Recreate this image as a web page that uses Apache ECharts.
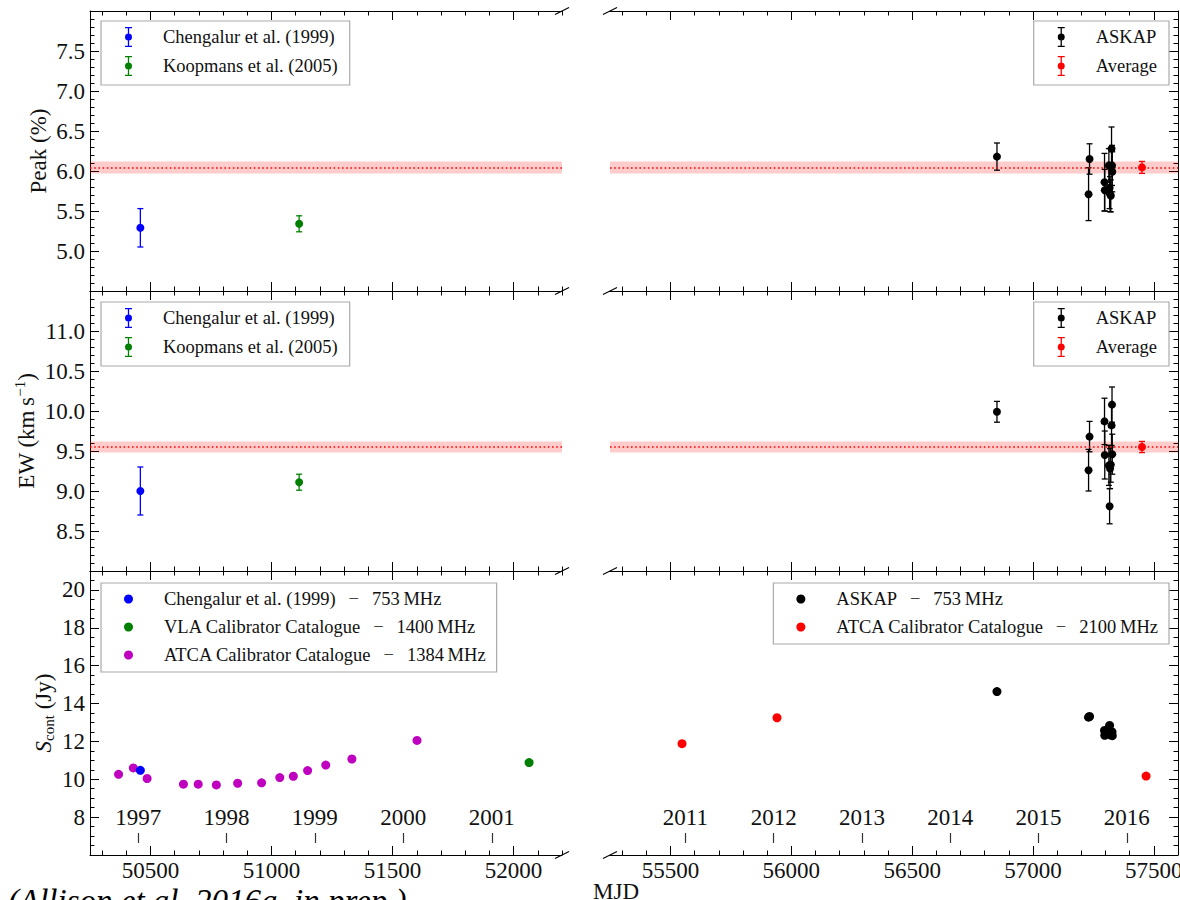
<!DOCTYPE html>
<html><head><meta charset="utf-8">
<script src="https://cdn.jsdelivr.net/npm/echarts@6/dist/echarts.min.js"></script>
<style>html,body{margin:0;padding:0;background:#fff}#c{width:1180px;height:900px}</style>
</head><body><div id="c"></div>
<script>
// ---------------- DATA ----------------
// Literature (left panels)
const chengalurMJD = [50458];
const chengalurPeak = [5.29];
const chengalurPeakErr = [0.24];
const chengalurEW = [9.0];
const chengalurEWErr = [0.30];
const chengalurFlux = [10.47];          // 753 MHz

const koopmansMJD = [51114];
const koopmansPeak = [5.34];
const koopmansPeakErr = [0.10];
const koopmansEW = [9.11];
const koopmansEWErr = [0.10];

const vlaMJD = [52064];
const vlaFlux = [10.88];                 // 1400 MHz

const atca1384MJD = [50368, 50429, 50486, 50636, 50697, 50772, 50860, 50959, 51034, 51090, 51149, 51224, 51332, 51601];
const atca1384Flux = [10.26, 10.60, 10.04, 9.74, 9.74, 9.70, 9.79, 9.81, 10.09, 10.16, 10.46, 10.75, 11.07, 12.05];

// ASKAP (right panels)
const askapMJD = [56851, 57230, 57234, 57296, 57297, 57314, 57317, 57319, 57322, 57325, 57327, 57328];
const askapPeak = [6.18, 5.71, 6.15, 5.86, 5.76, 6.07, 5.79, 5.71, 5.69, 6.28, 6.07, 5.99];
const askapPeakErr = [0.17, 0.33, 0.19, 0.36, 0.26, 0.21, 0.26, 0.22, 0.20, 0.27, 0.25, 0.25];
const askapEW = [9.99, 9.26, 9.68, 9.87, 9.45, 9.32, 8.81, 9.28, 9.33, 9.82, 10.08, 9.46];
const askapEWErr = [0.13, 0.26, 0.19, 0.29, 0.30, 0.25, 0.22, 0.25, 0.22, 0.25, 0.22, 0.25];
const askapFlux = [14.63, 13.28, 13.32, 12.58, 12.32, 12.45, 12.84, 12.35, 12.40, 12.37, 12.50, 12.30];

const atca2100MJD = [55548, 55941, 57468];
const atca2100Flux = [11.88, 13.25, 10.17];

// Average
const avgMJD = [57451];
const avgPeak = [6.045];
const avgPeakErr = [0.075];
const avgEW = [9.55];
const avgEWErr = [0.07];

// Tick labels
const mjdTicksLeft = [50500, 51000, 51500, 52000];
const mjdTicksRight = [55500, 56000, 56500, 57000, 57500];
const yearLabelsLeft = ['1997', '1998', '1999', '2000', '2001'];
const yearMJDLeft = [50449, 50814, 51179, 51544, 51910];
const yearLabelsRight = ['2011', '2012', '2013', '2014', '2015', '2016'];
const yearMJDRight = [55562, 55927, 56293, 56658, 57023, 57388];
const peakTicks = [5.0, 5.5, 6.0, 6.5, 7.0, 7.5];
const ewTicks = [8.5, 9.0, 9.5, 10.0, 10.5, 11.0];
const fluxTicks = [8, 10, 12, 14, 16, 18, 20];

// ---------------- LAYOUT ----------------
const FONT = 'Liberation Serif';
const COLS = [
  {left: 90, width: 472, min: 50250, max: 52200, ticks: mjdTicksLeft, years: yearMJDLeft, yearLabels: yearLabelsLeft},
  {left: 610, width: 568, min: 55250, max: 57600, ticks: mjdTicksRight, years: yearMJDRight, yearLabels: yearLabelsRight}
];
const ROWS = [
  {top: 11, height: 280, min: 4.5, max: 8.0, major: 0.5, minor: 0.1, ticks: peakTicks, dec: 1},
  {top: 291, height: 280, min: 8.0, max: 11.5, major: 0.5, minor: 0.1, ticks: ewTicks, dec: 1},
  {top: 571, height: 284, min: 6, max: 21, major: 2, minor: 0.5, ticks: fluxTicks, dec: 0}
];

function minorList(min, max, step, major) {
  const out = [];
  const start = Math.ceil(min / step - 1e-9) * step;
  for (let v = start; v <= max + 1e-9; v += step) {
    const r = Math.round(v * 1000) / 1000;
    const q = r / major;
    if (Math.abs(q - Math.round(q)) > 1e-6) out.push(r);
  }
  return out;
}

const lineSt = {color: '#000', width: 1};
const grids = [], xAxes = [], yAxes = [];
const axIdx = {};

ROWS.forEach((row, ri) => {
  COLS.forEach((col, ci) => {
    const gi = ri * 2 + ci;
    grids.push({left: col.left, top: row.top, width: col.width, height: row.height, containLabel: false, outerBoundsMode: 'none'});
    const xMinor = minorList(col.min, col.max, 100, 500);
    const xi = xAxes.length;
    xAxes.push({type: 'value', gridIndex: gi, position: 'bottom', min: col.min, max: col.max,
      axisLine: {show: true, lineStyle: lineSt},
      axisTick: {show: true, inside: true, length: 9, customValues: col.ticks, lineStyle: lineSt},
      axisLabel: {show: ri === 2, customValues: col.ticks, fontFamily: FONT, fontSize: 23, color: '#111', margin: 4,
        formatter: v => String(Math.round(v))},
      splitLine: {show: false}});
    xAxes.push({type: 'value', gridIndex: gi, position: 'bottom', min: col.min, max: col.max,
      axisLine: {show: false}, axisTick: {show: true, inside: true, length: 4.5, customValues: xMinor, lineStyle: lineSt},
      axisLabel: {show: false}, splitLine: {show: false}});
    xAxes.push({type: 'value', gridIndex: gi, position: 'top', min: col.min, max: col.max,
      axisLine: {show: true, lineStyle: lineSt},
      axisTick: {show: true, inside: true, length: 9, customValues: col.ticks, lineStyle: lineSt},
      axisLabel: {show: false}, splitLine: {show: false}});
    xAxes.push({type: 'value', gridIndex: gi, position: 'top', min: col.min, max: col.max,
      axisLine: {show: false}, axisTick: {show: true, inside: true, length: 4.5, customValues: xMinor, lineStyle: lineSt},
      axisLabel: {show: false}, splitLine: {show: false}});
    if (ri === 2) {
      xAxes.push({type: 'value', gridIndex: gi, position: 'bottom', offset: -12, min: col.min, max: col.max,
        axisLine: {show: false},
        axisTick: {show: true, inside: true, length: 10, customValues: col.years, lineStyle: {color: '#333', width: 1.2}},
        axisLabel: {show: true, inside: true, margin: 14, customValues: col.years, fontFamily: FONT, fontSize: 23, color: '#111',
          formatter: v => col.yearLabels[col.years.indexOf(v)]},
        splitLine: {show: false}});
    }
    const yi = yAxes.length;
    const yMinor = minorList(row.min, row.max, row.minor, row.major);
    const yMajorAll = [];
    for (let v = row.min; v <= row.max + 1e-9; v += row.major) yMajorAll.push(Math.round(v * 1000) / 1000);
    const yMain = {type: 'value', gridIndex: gi, position: ci === 0 ? 'left' : 'right', min: row.min, max: row.max,
      axisLine: {show: true, lineStyle: lineSt},
      axisTick: {show: true, inside: true, length: 9, customValues: yMajorAll, lineStyle: lineSt},
      axisLabel: {show: ci === 0, customValues: row.ticks, fontFamily: FONT, fontSize: 23, color: '#111', margin: 5,
        formatter: v => v.toFixed(row.dec)},
      splitLine: {show: false}};
    if (ci === 0) {
      yMain.nameLocation = 'middle';
      yMain.nameRotate = 90;
      yMain.nameTextStyle = {fontFamily: FONT, fontSize: 23, color: '#111',
        rich: {
          a: {fontFamily: FONT, fontSize: 23, color: '#111'},
          s: {fontFamily: FONT, fontSize: 23, fontStyle: 'italic', color: '#111'},
          sup: {fontFamily: FONT, fontSize: 15, color: '#111', padding: [0, 0, 14, 0]},
          sub: {fontFamily: FONT, fontSize: 15, color: '#111', padding: [10, 0, 0, 0]}
        }};
      if (ri === 0) { yMain.name = '{a|Peak (%)}'; yMain.nameGap = 40; }
      if (ri === 1) { yMain.name = '{a|EW (km\u2009s}{sup|\u22121}{a|)}'; yMain.nameGap = 49; }
      if (ri === 2) { yMain.name = '{s|S}{sub|cont}{a| (Jy)}'; yMain.nameGap = 34; }
    }
    yAxes.push(yMain);
    yAxes.push({type: 'value', gridIndex: gi, position: ci === 0 ? 'left' : 'right', min: row.min, max: row.max,
      axisLine: {show: false}, axisTick: {show: true, inside: true, length: 4.5, customValues: yMinor, lineStyle: lineSt},
      axisLabel: {show: false}, splitLine: {show: false}});
    axIdx[gi] = {x: xi, y: yi};
  });
});

// ---------------- SERIES ----------------
function errRender(color) {
  return function (params, api) {
    const x = api.value(0), y = api.value(1), e = api.value(2);
    const t = api.coord([x, y + e]), b = api.coord([x, y - e]);
    const cw = 3;
    const st = {stroke: color, lineWidth: 1.3};
    return {type: 'group', children: [
      {type: 'line', shape: {x1: t[0], y1: t[1], x2: b[0], y2: b[1]}, style: st},
      {type: 'line', shape: {x1: t[0] - cw, y1: t[1], x2: t[0] + cw, y2: t[1]}, style: st},
      {type: 'line', shape: {x1: b[0] - cw, y1: b[1], x2: b[0] + cw, y2: b[1]}, style: st}
    ]};
  };
}
const zip3 = (a, b, c) => a.map((v, i) => [v, b[i], c[i]]);
const zip2 = (a, b) => a.map((v, i) => [v, b[i]]);
const series = [];
function onGrid(gi, s) { s.xAxisIndex = axIdx[gi].x; s.yAxisIndex = axIdx[gi].y; series.push(s); return s; }
function errSeries(gi, color, xs, ys, es) {
  onGrid(gi, {type: 'custom', name: '_err', renderItem: errRender(color), data: zip3(xs, ys, es),
    encode: {x: 0, y: 1}, z: 4, silent: true});
}
function dotSeries(gi, name, color, xs, ys, size, z) {
  onGrid(gi, {type: 'scatter', name: name, data: zip2(xs, ys), symbol: 'circle', symbolSize: size,
    itemStyle: {color: color, opacity: 1}, z: z || 5, silent: true});
}
function bandSeries(gi, avg, err) {
  onGrid(gi, {type: 'line', name: '_band', data: [], z: 1, silent: true,
    markArea: {silent: true, itemStyle: {color: 'rgba(255,0,0,0.2)'}, data: [[{yAxis: avg - err}, {yAxis: avg + err}]]},
    markLine: {silent: true, symbol: ['none', 'none'], label: {show: false},
      lineStyle: {color: '#ff0000', type: [1.6, 2.6], width: 1.6}, data: [{yAxis: avg}]}});
}

bandSeries(0, avgPeak[0], avgPeakErr[0]);
errSeries(0, '#0000ff', chengalurMJD, chengalurPeak, chengalurPeakErr);
errSeries(0, '#008000', koopmansMJD, koopmansPeak, koopmansPeakErr);
dotSeries(0, 'Chengalur et al. (1999)', '#0000ff', chengalurMJD, chengalurPeak, 8);
dotSeries(0, 'Koopmans et al. (2005)', '#008000', koopmansMJD, koopmansPeak, 8);
bandSeries(1, avgPeak[0], avgPeakErr[0]);
errSeries(1, '#000000', askapMJD, askapPeak, askapPeakErr);
errSeries(1, '#ff0000', avgMJD, avgPeak, avgPeakErr);
dotSeries(1, 'ASKAP', '#000000', askapMJD, askapPeak, 8);
dotSeries(1, 'Average', '#ff0000', avgMJD, avgPeak, 8);
bandSeries(2, avgEW[0], avgEWErr[0]);
errSeries(2, '#0000ff', chengalurMJD, chengalurEW, chengalurEWErr);
errSeries(2, '#008000', koopmansMJD, koopmansEW, koopmansEWErr);
dotSeries(2, 'Chengalur et al. (1999)', '#0000ff', chengalurMJD, chengalurEW, 8);
dotSeries(2, 'Koopmans et al. (2005)', '#008000', koopmansMJD, koopmansEW, 8);
bandSeries(3, avgEW[0], avgEWErr[0]);
errSeries(3, '#000000', askapMJD, askapEW, askapEWErr);
errSeries(3, '#ff0000', avgMJD, avgEW, avgEWErr);
dotSeries(3, 'ASKAP', '#000000', askapMJD, askapEW, 8);
dotSeries(3, 'Average', '#ff0000', avgMJD, avgEW, 8);
const SEP = '\u2002\u2009\u2212\u2002\u2009';
const nCh = 'Chengalur et al. (1999)' + SEP + '753\u2009MHz';
const nVLA = 'VLA Calibrator Catalogue' + SEP + '1400\u2009MHz';
const nA1384 = 'ATCA Calibrator Catalogue' + SEP + '1384\u2009MHz';
const nASK = 'ASKAP' + SEP + '753\u2009MHz';
const nA2100 = 'ATCA Calibrator Catalogue' + SEP + '2100\u2009MHz';
dotSeries(4, nA1384, '#bf00bf', atca1384MJD, atca1384Flux, 9, 5);
dotSeries(4, nCh, '#0000ff', chengalurMJD, chengalurFlux, 9, 6);
dotSeries(4, nVLA, '#008000', vlaMJD, vlaFlux, 9, 6);
dotSeries(5, nASK, '#000000', askapMJD, askapFlux, 9, 5);
dotSeries(5, nA2100, '#ff0000', atca2100MJD, atca2100Flux, 9, 5);

// ---------------- LEGENDS ----------------
const ERR_ICON = 'path://M1.5,0H8.5V1.3H5.65V18.7H8.5V20H1.5V18.7H4.35V1.3H1.5Z M5,6.5A3.5,3.5,0,1,1,5,13.5A3.5,3.5,0,1,1,5,6.5Z';
const legBase = {orient: 'vertical', selectedMode: false, backgroundColor: '#fff', borderColor: '#aaaaaa', borderWidth: 1.2,
  borderRadius: 0, textStyle: {fontFamily: FONT, fontSize: 18.5, color: '#111', lineHeight: 20, padding: [0, 0, 0, 26]}};
function errLegend(names, pos) {
  return Object.assign({}, legBase, pos, {itemWidth: 7, itemHeight: 20, itemGap: 9, padding: [6, 12, 9, 24],
    data: names.map(n => ({name: n, icon: ERR_ICON}))});
}
function dotLegend(names, pos) {
  return Object.assign({}, legBase, pos, {itemWidth: 9, itemHeight: 9, itemGap: 8, padding: [6, 10, 7, 23],
    data: names.map(n => ({name: n, icon: 'circle'}))});
}
const legends = [
  errLegend(['Chengalur et al. (1999)', 'Koopmans et al. (2005)'], {left: 101, top: 21}),
  errLegend(['ASKAP', 'Average'], {right: 11, top: 21}),
  errLegend(['Chengalur et al. (1999)', 'Koopmans et al. (2005)'], {left: 101, top: 302}),
  errLegend(['ASKAP', 'Average'], {right: 11, top: 302}),
  dotLegend([nCh, nVLA, nA1384], {left: 101, top: 583}),
  dotLegend([nASK, nA2100], {right: 11, top: 583})
];

// ---------------- DECORATIONS ----------------
const graphics = [];
const breakX = [COLS[0].left + COLS[0].width, COLS[1].left];
const breakY = [ROWS[0].top, ROWS[1].top, ROWS[2].top, ROWS[2].top + ROWS[2].height];
breakX.forEach(bx => breakY.forEach(by => {
  graphics.push({type: 'line', shape: {x1: bx - 7, y1: by + 3.5, x2: bx + 7, y2: by - 3.5}, style: {stroke: '#000', lineWidth: 1.1}, silent: true});
}));
graphics.push({type: 'text', left: 593, top: 880, style: {text: 'MJD', font: '23px "Liberation Serif"', fill: '#111'}, silent: true});
graphics.push({type: 'text', left: 8, top: 884, style: {text: '(Allison et al. 2016a, in prep.)', font: 'italic 33px "Liberation Serif"', fill: '#000'}, silent: true});

const chart = echarts.init(document.getElementById('c'), null, {renderer: 'svg'});
chart.setOption({
  animation: false,
  backgroundColor: '#ffffff',
  grid: grids,
  xAxis: xAxes,
  yAxis: yAxes,
  legend: legends,
  series: series,
  graphic: graphics
});
</script>
</body></html>
